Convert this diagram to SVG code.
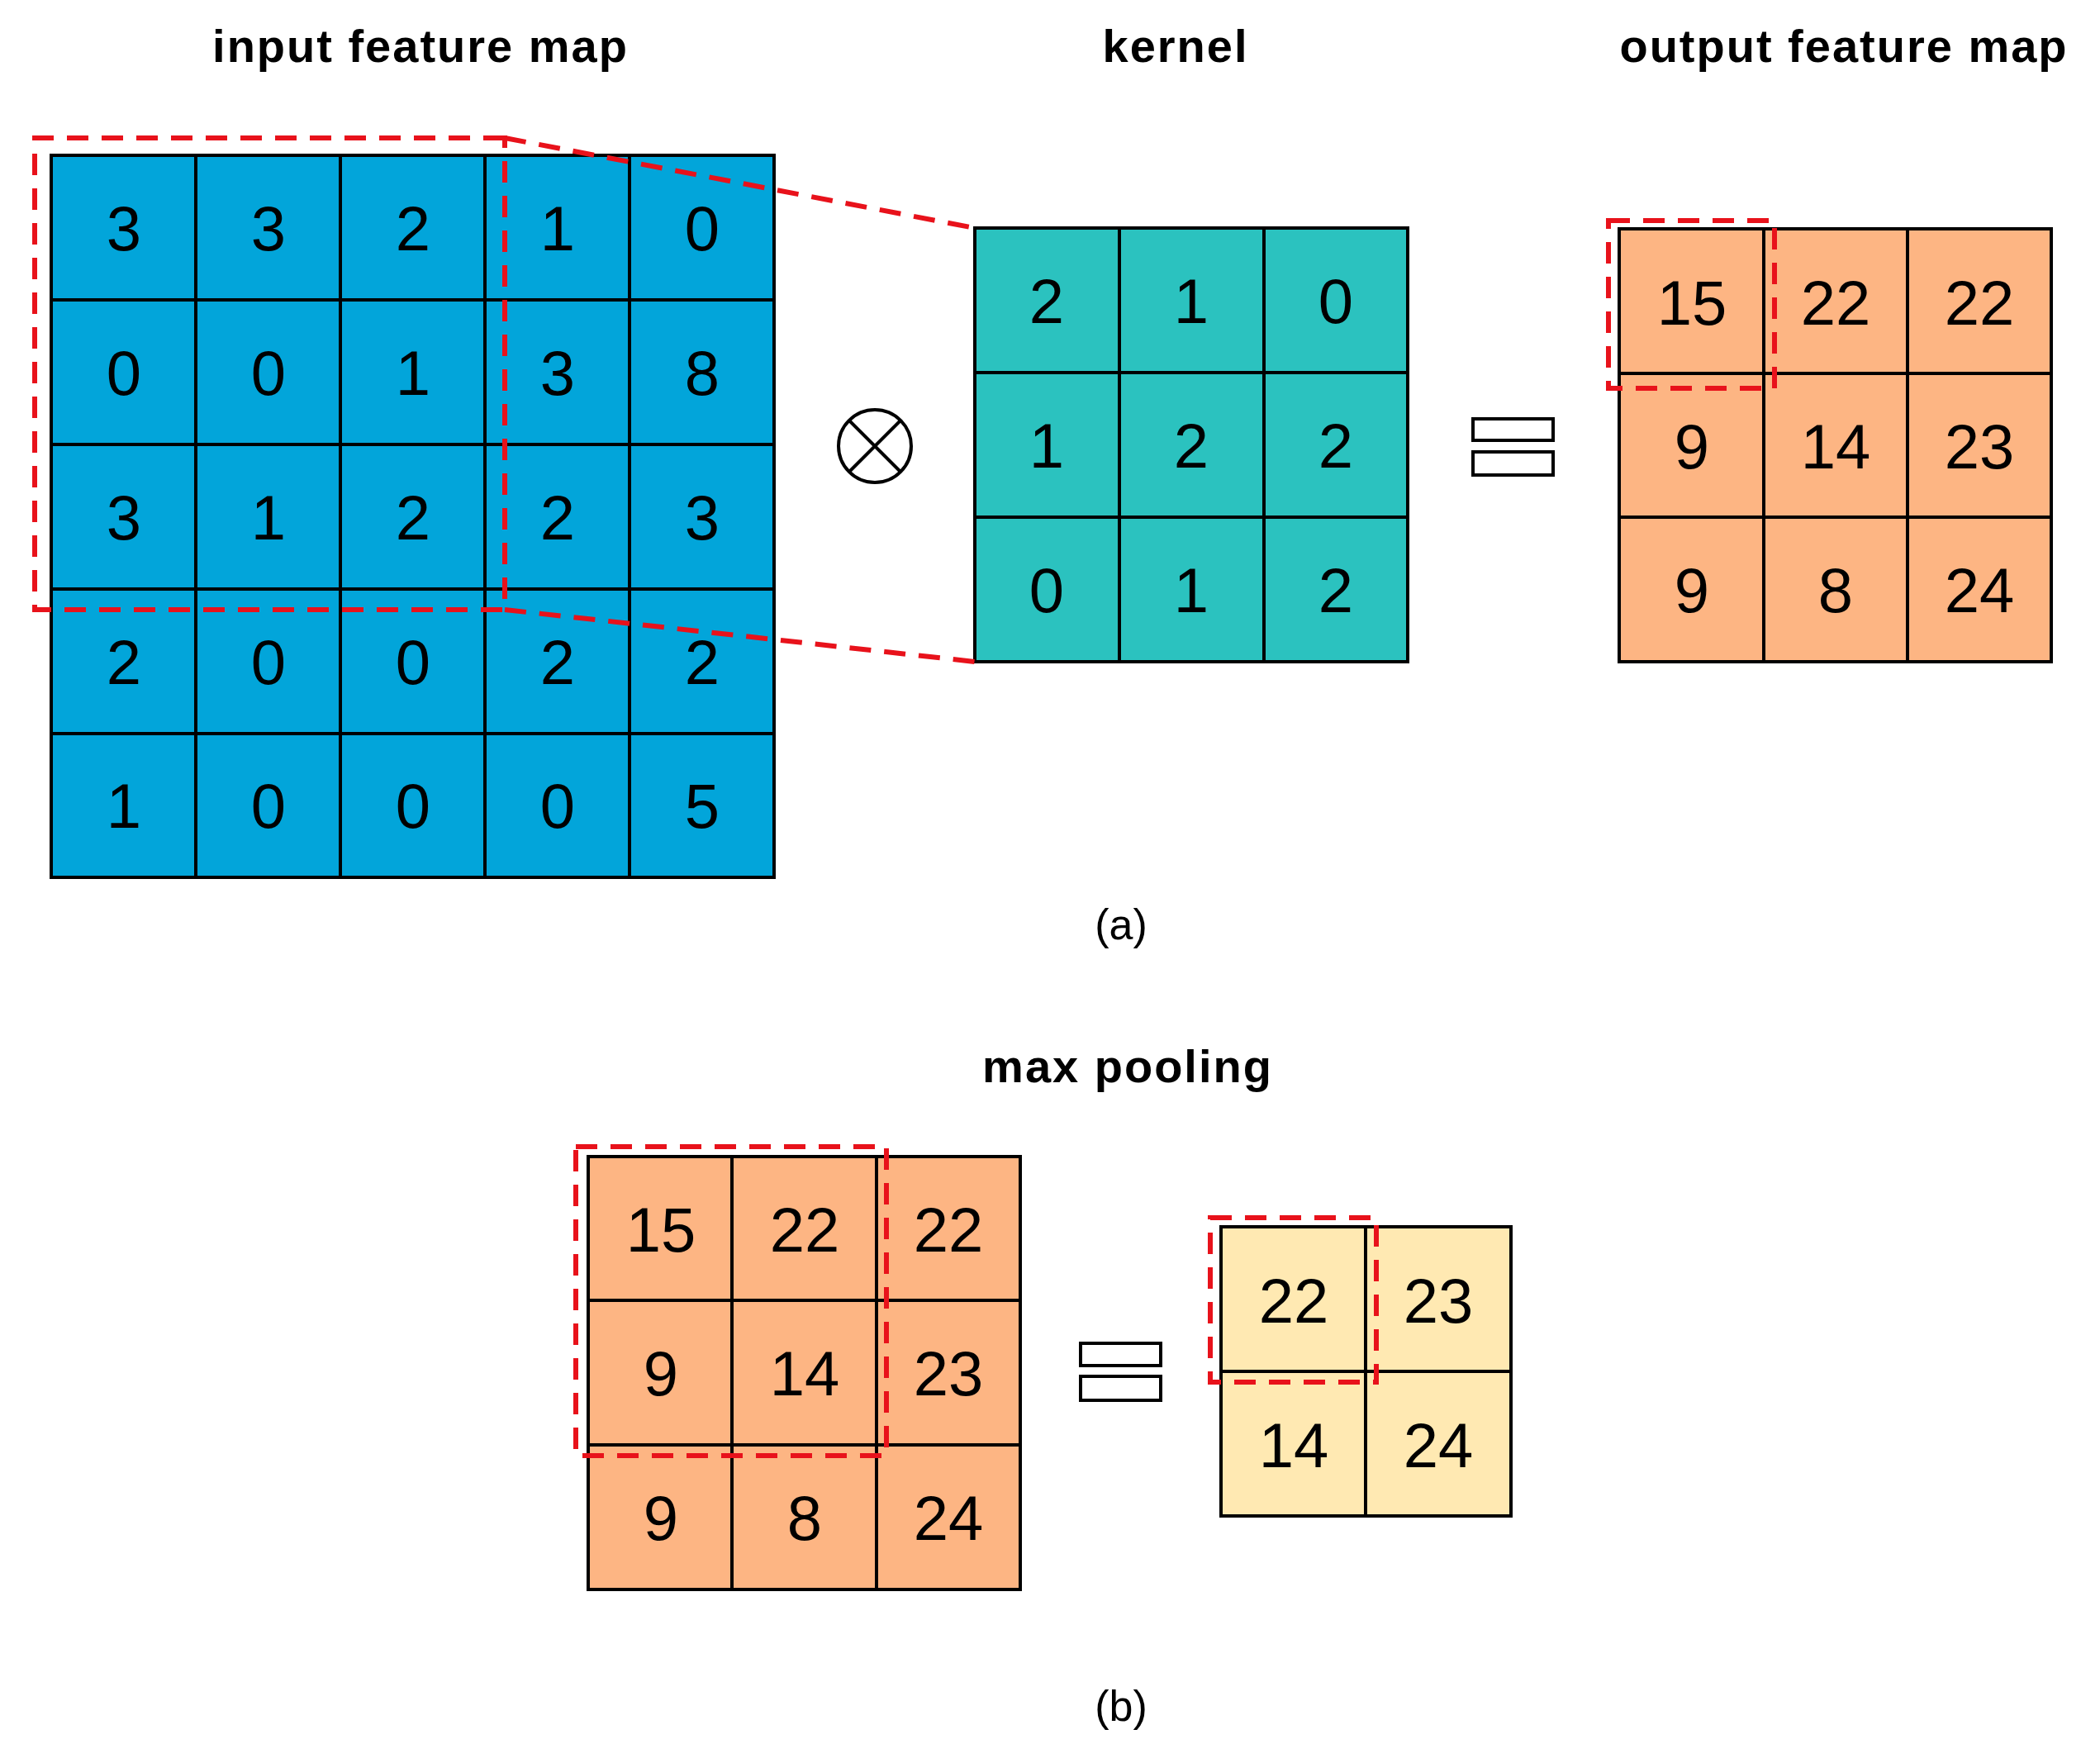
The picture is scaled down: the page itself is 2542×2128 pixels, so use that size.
<svg xmlns="http://www.w3.org/2000/svg" width="2542" height="2128" viewBox="0 0 2542 2128">
<style>
.c{stroke:#000;stroke-width:4}
.b{fill:#02A5DA}.t{fill:#2BC2BF}.o{fill:#FDB583}.y{fill:#FFE9B2}
.n{font-family:"Liberation Sans",Arial,sans-serif;font-size:76px;text-anchor:middle;dominant-baseline:central;fill:#000}
.h{font-family:"Liberation Sans",Arial,sans-serif;font-size:56px;font-weight:bold;text-anchor:middle;fill:#000;letter-spacing:2px}
.l{font-family:"Liberation Sans",Arial,sans-serif;font-size:52px;text-anchor:middle;fill:#000}
.r{fill:none;stroke:#E8121B;stroke-width:6;stroke-dasharray:26 16}
.e{fill:#fff;stroke:#000;stroke-width:4}
</style>
<rect width="2542" height="2128" fill="#fff"/>
<text class="h" x="509" y="75">input feature map</text>
<text class="h" x="1423" y="75">kernel</text>
<text class="h" x="2232" y="75">output feature map</text>
<text class="h" x="1365" y="1310">max pooling</text>
<text class="l" x="1357" y="1137">(a)</text>
<text class="l" x="1357" y="2083">(b)</text>

<g id="input">
<rect class="b c" x="62" y="188" width="875" height="874"/>
<path class="c" d="M237 188V1062M412 188V1062M587 188V1062M762 188V1062M62 363H937M62 538H937M62 713H937M62 888H937"/>
<g class="n">
<text x="150" y="276">3</text><text x="325" y="276">3</text><text x="500" y="276">2</text><text x="675" y="276">1</text><text x="850" y="276">0</text>
<text x="150" y="451">0</text><text x="325" y="451">0</text><text x="500" y="451">1</text><text x="675" y="451">3</text><text x="850" y="451">8</text>
<text x="150" y="626">3</text><text x="325" y="626">1</text><text x="500" y="626">2</text><text x="675" y="626">2</text><text x="850" y="626">3</text>
<text x="150" y="801">2</text><text x="325" y="801">0</text><text x="500" y="801">0</text><text x="675" y="801">2</text><text x="850" y="801">2</text>
<text x="150" y="975">1</text><text x="325" y="975">0</text><text x="500" y="975">0</text><text x="675" y="975">0</text><text x="850" y="975">5</text>
</g>
</g>

<g id="otimes">
<circle cx="1059" cy="540" r="44" fill="#fff" stroke="#000" stroke-width="4"/>
<path d="M1028 509L1090 571M1090 509L1028 571" stroke="#000" stroke-width="4"/>
</g>

<g id="kernel">
<rect class="t c" x="1180" y="276" width="524" height="525"/>
<path class="c" d="M1355 276V801M1530 276V801M1180 451H1704M1180 626H1704"/>
<g class="n">
<text x="1267" y="364">2</text><text x="1442" y="364">1</text><text x="1617" y="364">0</text>
<text x="1267" y="539">1</text><text x="1442" y="539">2</text><text x="1617" y="539">2</text>
<text x="1267" y="714">0</text><text x="1442" y="714">1</text><text x="1617" y="714">2</text>
</g>
</g>

<g id="eq1">
<rect class="e" x="1783" y="507" width="97" height="26"/>
<rect class="e" x="1783" y="547" width="97" height="28"/>
</g>

<g id="output">
<rect class="o c" x="1960" y="277" width="523" height="524"/>
<path class="c" d="M2135 277V801M2309 277V801M1960 452H2483M1960 626H2483"/>
<g class="n">
<text x="2048" y="366">15</text><text x="2222" y="366">22</text><text x="2396" y="366">22</text>
<text x="2048" y="540">9</text><text x="2222" y="540">14</text><text x="2396" y="540">23</text>
<text x="2048" y="714">9</text><text x="2222" y="714">8</text><text x="2396" y="714">24</text>
</g>
</g>

<g id="pool-in">
<rect class="o c" x="712" y="1400" width="523" height="524"/>
<path class="c" d="M886 1400V1924M1061 1400V1924M712 1574H1235M712 1749H1235"/>
<g class="n">
<text x="800" y="1488">15</text><text x="974" y="1488">22</text><text x="1148" y="1488">22</text>
<text x="800" y="1662">9</text><text x="974" y="1662">14</text><text x="1148" y="1662">23</text>
<text x="800" y="1837">9</text><text x="974" y="1837">8</text><text x="1148" y="1837">24</text>
</g>
</g>

<g id="eq2">
<rect class="e" x="1308" y="1626" width="97" height="27"/>
<rect class="e" x="1308" y="1666" width="97" height="29"/>
</g>

<g id="pool-out">
<rect class="y c" x="1478" y="1485" width="351" height="350"/>
<path class="c" d="M1653 1485V1835M1478 1660H1829"/>
<g class="n">
<text x="1566" y="1574">22</text><text x="1741" y="1574">23</text>
<text x="1566" y="1749">14</text><text x="1741" y="1749">24</text>
</g>
</g>

<g id="connectors">
<path class="r" d="M611 167H42V738H611Z"/>
<path class="r" d="M611 167L1180 276M611 738L1180 801"/>
<rect class="r" x="1947" y="267" width="201" height="203"/>
<rect class="r" x="697" y="1388" width="376" height="374"/>
<rect class="r" x="1465" y="1474" width="201" height="199"/>
</g>
</svg>
